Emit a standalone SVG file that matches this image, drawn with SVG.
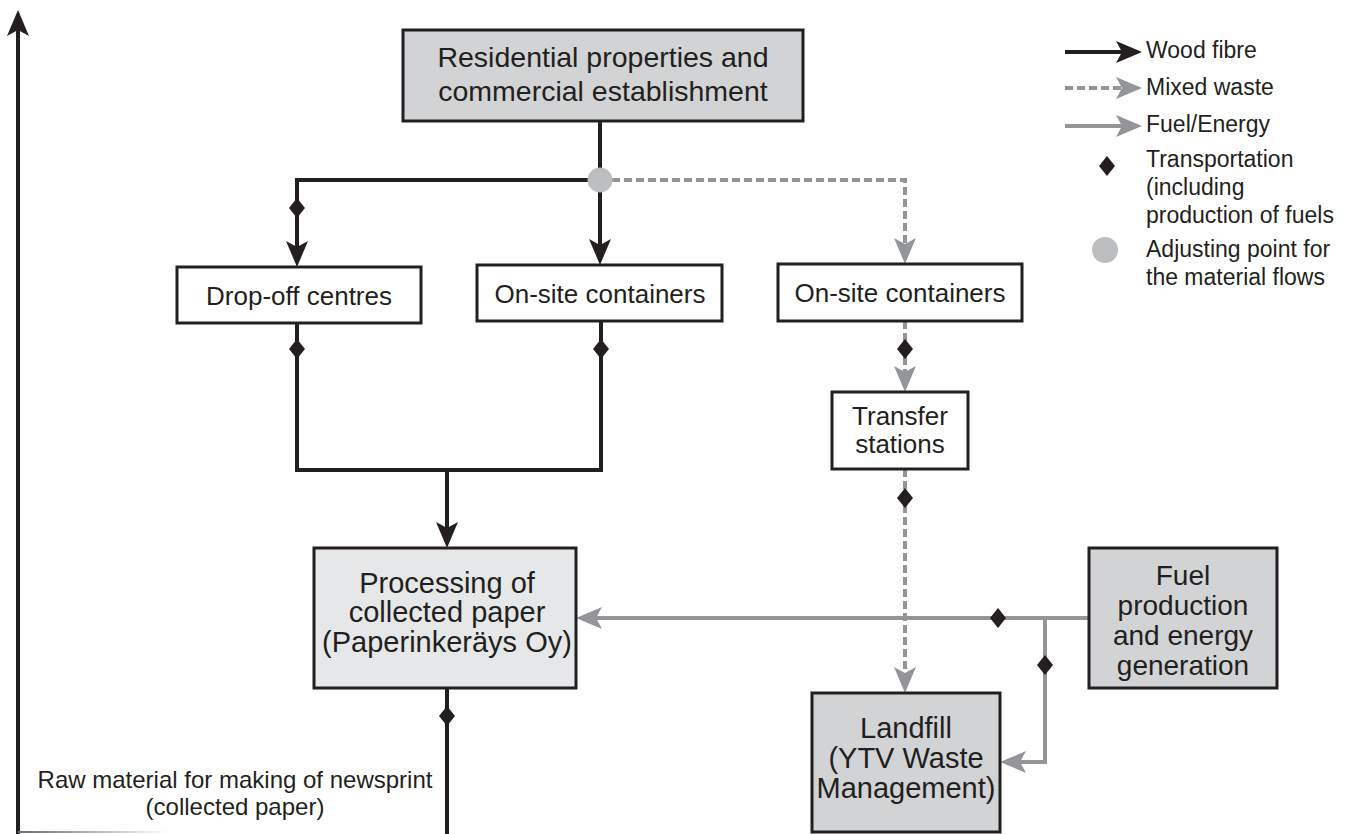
<svg xmlns="http://www.w3.org/2000/svg" width="1356" height="834" viewBox="0 0 1356 834">
  <style>
    text { font-family: "Liberation Sans", Arial, sans-serif; fill: #231f20; text-anchor: middle; }
    .lbl { font-size: 26px; }
    .big { font-size: 29px; }
    .leg { font-size: 23px; text-anchor: start; }
    .box { stroke: #231f20; stroke-width: 3; }
    .white { fill: #ffffff; }
    .grey { fill: #d1d3d4; }
    .light { fill: #e6e7e8; }
    .wood { fill: none; stroke: #231f20; stroke-width: 4; }
    .waste { fill: none; stroke: #939598; stroke-width: 4; stroke-dasharray: 8 4; }
    .fuel { fill: none; stroke: #939598; stroke-width: 4; }
  </style>
  <defs>
    <marker id="arrowBlack" viewBox="-17 -12 28 24" refX="0" refY="0" markerWidth="28" markerHeight="24" markerUnits="userSpaceOnUse" orient="auto">
      <path d="M10,0 L-16,-11 L-10,0 L-16,11 Z" fill="#231f20"/>
    </marker>
    <marker id="arrowGrey" viewBox="-17 -12 28 24" refX="0" refY="0" markerWidth="28" markerHeight="24" markerUnits="userSpaceOnUse" orient="auto">
      <path d="M10,0 L-16,-11 L-10,0 L-16,11 Z" fill="#939598"/>
    </marker>
    <path id="diamond" d="M0,-10 L8,0 L0,10 L-8,0 Z" fill="#231f20"/>
    <linearGradient id="fade" x1="0" y1="0" x2="1" y2="0">
      <stop offset="0" stop-color="#6d6e71"/>
      <stop offset="1" stop-color="#ffffff"/>
    </linearGradient>
  </defs>

  <!-- vertical axis on the left -->
  <g id="axis">
    <path class="wood" d="M18,834 V20" marker-end="url(#arrowBlack)"/>
    <rect x="18" y="831" width="150" height="2" fill="url(#fade)"/>
    <text style="font-size:24px" x="235" y="788">Raw material for making of newsprint</text>
    <text style="font-size:24px" x="235" y="815">(collected paper)</text>
  </g>

  <!-- connectors -->
  <g id="connectors">
    <path class="wood" d="M600,121 V180"/>
    <path class="wood" d="M600,180 H297 V257" marker-end="url(#arrowBlack)"/>
    <path class="wood" d="M600,180 V255" marker-end="url(#arrowBlack)"/>
    <path class="waste" d="M612,180 H905 V254" marker-end="url(#arrowGrey)"/>
    <path class="wood" d="M297,323 V470 H601 V321"/>
    <path class="wood" d="M447,470 V538" marker-end="url(#arrowBlack)"/>
    <path class="wood" d="M447,688 V834"/>
    <path class="waste" d="M905,321 V382" marker-end="url(#arrowGrey)"/>
    <path class="waste" d="M905,469 V683" marker-end="url(#arrowGrey)"/>
    <path class="fuel" d="M1089,618 H586" marker-end="url(#arrowGrey)"/>
    <path class="fuel" d="M1045,618 V762 H1010" marker-end="url(#arrowGrey)"/>
    <!-- transport points -->
    <use href="#diamond" x="297" y="208"/>
    <use href="#diamond" x="297" y="349"/>
    <use href="#diamond" x="601" y="349"/>
    <use href="#diamond" x="905" y="349"/>
    <use href="#diamond" x="905" y="498"/>
    <use href="#diamond" x="998" y="618"/>
    <use href="#diamond" x="1045" y="665"/>
    <use href="#diamond" x="447" y="716"/>
    <!-- adjusting point -->
    <circle cx="600" cy="180" r="12.5" fill="#bcbec0"/>
  </g>

  <g id="residential">
    <rect class="box grey" x="403" y="30" width="400" height="91"/>
    <text style="font-size:28.5px" x="603" y="67">Residential properties and</text>
    <text style="font-size:28.5px" x="603" y="101">commercial establishment</text>
  </g>

  <g id="dropoff">
    <rect class="box white" x="177" y="267" width="244" height="56"/>
    <text class="lbl" x="299" y="305">Drop-off centres</text>
  </g>

  <g id="onsite-fibre">
    <rect class="box white" x="477" y="265" width="245" height="56"/>
    <text class="lbl" x="600" y="303">On-site containers</text>
  </g>

  <g id="onsite-waste">
    <rect class="box white" x="778" y="264" width="244" height="57"/>
    <text class="lbl" x="900" y="302">On-site containers</text>
  </g>

  <g id="transfer">
    <rect class="box white" x="832" y="392" width="136" height="77"/>
    <text class="lbl" x="900" y="425">Transfer</text>
    <text class="lbl" x="900" y="453">stations</text>
  </g>

  <g id="processing">
    <rect class="box light" x="314" y="548" width="262" height="140"/>
    <text class="big" x="447" y="593">Processing of</text>
    <text class="big" x="447" y="622">collected paper</text>
    <text class="big" x="447" y="652">(Paperinkeräys Oy)</text>
  </g>

  <g id="fuel">
    <rect class="box grey" x="1089" y="548" width="188" height="140"/>
    <text style="font-size:28px" x="1183" y="585">Fuel</text>
    <text style="font-size:28px" x="1183" y="615">production</text>
    <text style="font-size:28px" x="1183" y="645">and energy</text>
    <text style="font-size:28px" x="1183" y="675">generation</text>
  </g>

  <g id="landfill">
    <rect class="box grey" x="812" y="693" width="188" height="139"/>
    <text class="big" x="906" y="738">Landfill</text>
    <text class="big" x="906" y="768">(YTV Waste</text>
    <text class="big" x="906" y="798">Management)</text>
  </g>

  <g id="legend">
    <path class="wood" d="M1065,52 H1132" marker-end="url(#arrowBlack)"/>
    <text class="leg" x="1146" y="58">Wood fibre</text>
    <path class="waste" d="M1065,88 H1132" marker-end="url(#arrowGrey)"/>
    <text class="leg" x="1146" y="95">Mixed waste</text>
    <path class="fuel" d="M1065,126 H1132" marker-end="url(#arrowGrey)"/>
    <text class="leg" x="1146" y="132">Fuel/Energy</text>
    <use href="#diamond" x="1107" y="166"/>
    <text class="leg" x="1146" y="167">Transportation</text>
    <text class="leg" x="1146" y="195">(including</text>
    <text class="leg" x="1146" y="223">production of fuels</text>
    <circle cx="1105" cy="250" r="13" fill="#bcbec0"/>
    <text class="leg" x="1146" y="257">Adjusting point for</text>
    <text class="leg" x="1146" y="285">the material flows</text>
  </g>
</svg>
